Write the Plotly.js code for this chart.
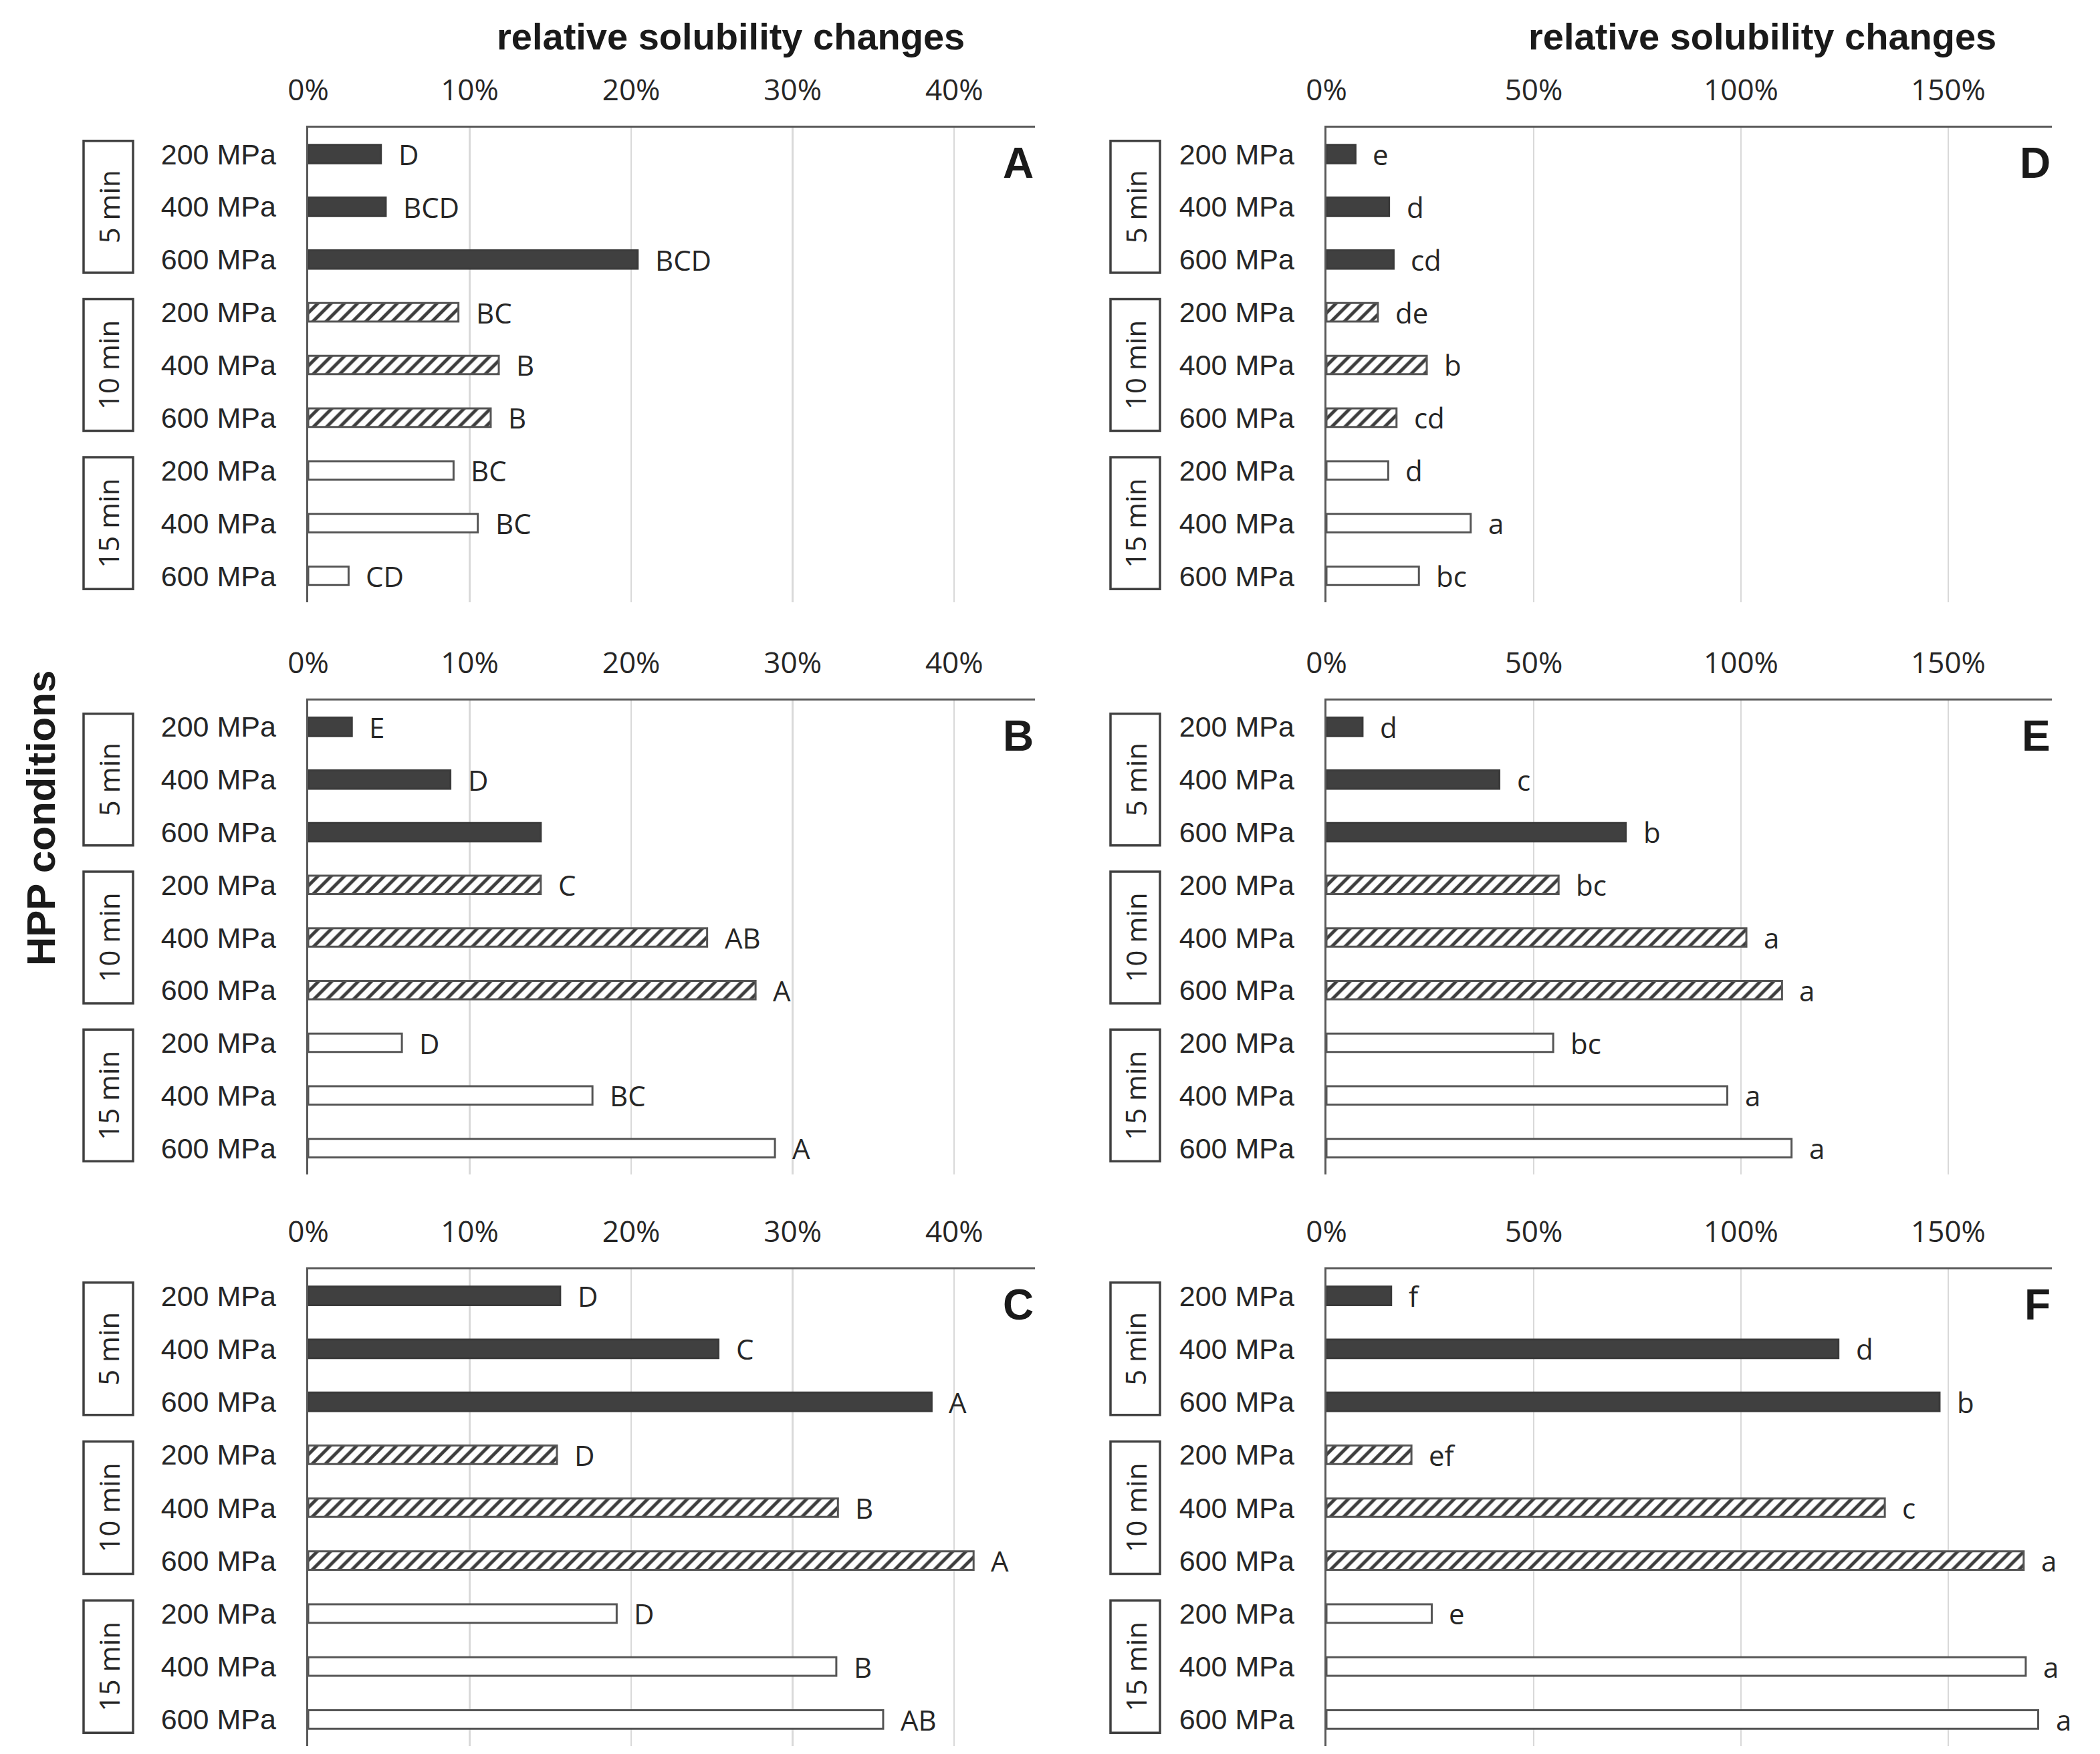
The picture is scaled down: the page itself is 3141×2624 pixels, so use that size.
<!DOCTYPE html>
<html>
<head>
<meta charset="utf-8">
<script src="https://cdn.plot.ly/plotly-3.0.1.min.js"></script>
<style>html,body{margin:0;padding:0;background:#fff;}</style>
</head>
<body>
<div id="chart" style="width:3141px;height:2624px;"></div>
<script>
// ---------- data ----------
const pressures = ['200 MPa', '400 MPa', '600 MPa'];
const durations = ['5 min', '10 min', '15 min'];
const panelNames = ['A', 'B', 'C', 'D', 'E', 'F'];
const axisTitle = 'relative solubility changes';
const sideTitle = 'HPP conditions';

const valuesA = [4.5, 4.8, 20.4, 9.3, 11.8, 11.3, 9.0, 10.5, 2.5];
const lettersA = ['D', 'BCD', 'BCD', 'BC', 'B', 'B', 'BC', 'BC', 'CD'];
const valuesB = [2.7, 8.8, 14.4, 14.4, 24.7, 27.7, 5.8, 17.6, 28.9];
const lettersB = ['E', 'D', '', 'C', 'AB', 'A', 'D', 'BC', 'A'];
const valuesC = [15.6, 25.4, 38.6, 15.4, 32.8, 41.2, 19.1, 32.7, 35.6];
const lettersC = ['D', 'C', 'A', 'D', 'B', 'A', 'D', 'B', 'AB'];
const valuesD = [7.0, 15.1, 16.2, 12.4, 24.2, 16.9, 14.9, 34.8, 22.3];
const lettersD = ['e', 'd', 'cd', 'de', 'b', 'cd', 'd', 'a', 'bc'];
const valuesE = [8.7, 41.7, 72.2, 56.0, 101.3, 109.9, 54.7, 96.7, 112.2];
const lettersE = ['d', 'c', 'b', 'bc', 'a', 'a', 'bc', 'a', 'a'];
const valuesF = [15.6, 123.5, 147.9, 20.5, 134.7, 168.2, 25.4, 168.7, 171.7];
const lettersF = ['f', 'd', 'b', 'ef', 'c', 'a', 'e', 'a', 'a'];

const leftTicks = [0, 10, 20, 30, 40];
const rightTicks = [0, 50, 100, 150];
const leftMax = 45;
const rightMax = 175;

// ---------- layout helpers ----------
const W = 3141, H = 2624;
const panels = [
  {name: panelNames[0], vals: valuesA, lets: lettersA, col: 0, row: 0},
  {name: panelNames[1], vals: valuesB, lets: lettersB, col: 0, row: 1},
  {name: panelNames[2], vals: valuesC, lets: lettersC, col: 0, row: 2},
  {name: panelNames[3], vals: valuesD, lets: lettersD, col: 1, row: 0},
  {name: panelNames[4], vals: valuesE, lets: lettersE, col: 1, row: 1},
  {name: panelNames[5], vals: valuesF, lets: lettersF, col: 1, row: 2}
];
const xPix = [[461, 1548], [1984, 3069]];
const yPix = [[191, 901], [1048, 1757], [1899, 2612]];
const boxPix = [[125, 199], [1661, 1735]];

const styles = [
  {color: '#404040', line: '#3a3a3a', pattern: {shape: ''}},
  {color: '#ffffff', line: '#555555', pattern: {shape: '/', fgcolor: '#3c3c3c', bgcolor: '#ffffff', size: 14, solidity: 0.35}},
  {color: '#ffffff', line: '#555555', pattern: {shape: ''}}
];

const tickFont = {family: 'Open Sans, sans-serif', size: 44, color: '#262626'};
const catFont = {family: 'Liberation Sans, Arial, sans-serif', size: 43, color: '#262626'};
const letterFont = {family: 'Open Sans, sans-serif', size: 42, color: '#262626'};

const traces = [];
const annotations = [];
const shapes = [];
const layout = {
  width: W, height: H,
  margin: {l: 0, r: 0, t: 0, b: 0},
  paper_bgcolor: '#ffffff', plot_bgcolor: '#ffffff',
  showlegend: false,
  barmode: 'overlay'
};

const catIdx = [];
const catText = [];
durations.forEach((d, g) => pressures.forEach((p, k) => { catIdx.push(g * 3 + k); catText.push(p); }));

panels.forEach((pn, i) => {
  const n = i + 1;
  const xa = 'x' + (n === 1 ? '' : n);
  const ya = 'y' + (n === 1 ? '' : n);
  const xk = 'xaxis' + (n === 1 ? '' : n);
  const yk = 'yaxis' + (n === 1 ? '' : n);
  const xp = xPix[pn.col], yp = yPix[pn.row];
  const isLeft = pn.col === 0;
  const tv = isLeft ? leftTicks : rightTicks;

  durations.forEach((d, g) => {
    const st = styles[g];
    const yy = pressures.map((p, k) => g * 3 + k);
    const xx = pressures.map((p, k) => pn.vals[g * 3 + k]);
    traces.push({
      type: 'bar', orientation: 'h',
      x: xx, y: yy, xaxis: xa, yaxis: ya,
      width: 0.35,
      marker: {color: st.color, line: {color: st.line, width: 3}, pattern: st.pattern},
      hoverinfo: 'x+y', name: d
    });
  });

  layout[xk] = {
    domain: [xp[0] / W, xp[1] / W],
    anchor: ya, side: 'top',
    range: [0, isLeft ? leftMax : rightMax],
    tickmode: 'array',
    tickvals: tv,
    ticktext: tv.map(t => t + '%'),
    showgrid: true, gridcolor: '#d9d9d9', gridwidth: 2.5,
    zeroline: false,
    showline: true, linecolor: '#595959', linewidth: 3.5,
    ticks: '', ticklabelstandoff: 20,
    tickfont: tickFont, fixedrange: true
  };
  layout[yk] = {
    domain: [1 - yp[1] / H, 1 - yp[0] / H],
    anchor: xa,
    range: [8.5, -0.5],
    tickmode: 'array',
    tickvals: catIdx, ticktext: catText,
    showgrid: false, zeroline: false,
    showline: true, linecolor: '#595959', linewidth: 3.5,
    ticks: '', ticklabelstandoff: 36,
    tickfont: catFont, fixedrange: true
  };

  // significance letters
  pn.vals.forEach((v, j) => {
    if (!pn.lets[j]) return;
    annotations.push({
      xref: xa, yref: ya, x: v, y: j,
      text: pn.lets[j], showarrow: false,
      xanchor: 'left', yanchor: 'middle', xshift: 24,
      font: letterFont
    });
  });

  // panel letter
  annotations.push({
    xref: xa + ' domain', yref: ya + ' domain', x: 1, y: 0.925,
    text: '<b>' + pn.name + '</b>', showarrow: false,
    xanchor: 'right', yanchor: 'middle',
    font: {family: 'Liberation Sans, Arial, sans-serif', size: 64, color: '#1a1a1a'}
  });

  // duration boxes
  durations.forEach((d, g) => {
    const bp = boxPix[pn.col];
    shapes.push({
      type: 'rect', xref: 'paper', yref: ya,
      x0: bp[0] / W, x1: bp[1] / W,
      y0: g * 3 - 0.25, y1: g * 3 + 2.25,
      line: {color: '#404040', width: 3.5}, fillcolor: 'rgba(0,0,0,0)'
    });
    annotations.push({
      xref: 'paper', yref: ya,
      x: (bp[0] + bp[1]) / 2 / W, y: g * 3 + 1,
      text: d, textangle: -90, showarrow: false,
      xanchor: 'center', yanchor: 'middle',
      font: {family: 'Open Sans, sans-serif', size: 42, color: '#262626'}
    });
  });
});

// top titles
[1093, 2636].forEach(cx => {
  annotations.push({
    xref: 'paper', yref: 'paper', x: cx / W, y: 1 - 54 / H,
    text: '<b>' + axisTitle + '</b>', showarrow: false,
    xanchor: 'center', yanchor: 'middle',
    font: {family: 'Liberation Sans, Arial, sans-serif', size: 56, color: '#1a1a1a'}
  });
});
// side title
annotations.push({
  xref: 'paper', yref: 'paper', x: 61 / W, y: 1 - 1224 / H,
  text: '<b>' + sideTitle + '</b>', textangle: -90, showarrow: false,
  xanchor: 'center', yanchor: 'middle',
  font: {family: 'Liberation Sans, Arial, sans-serif', size: 60, color: '#1a1a1a'}
});

layout.annotations = annotations;
layout.shapes = shapes;

Plotly.newPlot('chart', traces, layout, {displayModeBar: false, staticPlot: true});
</script>
</body>
</html>
